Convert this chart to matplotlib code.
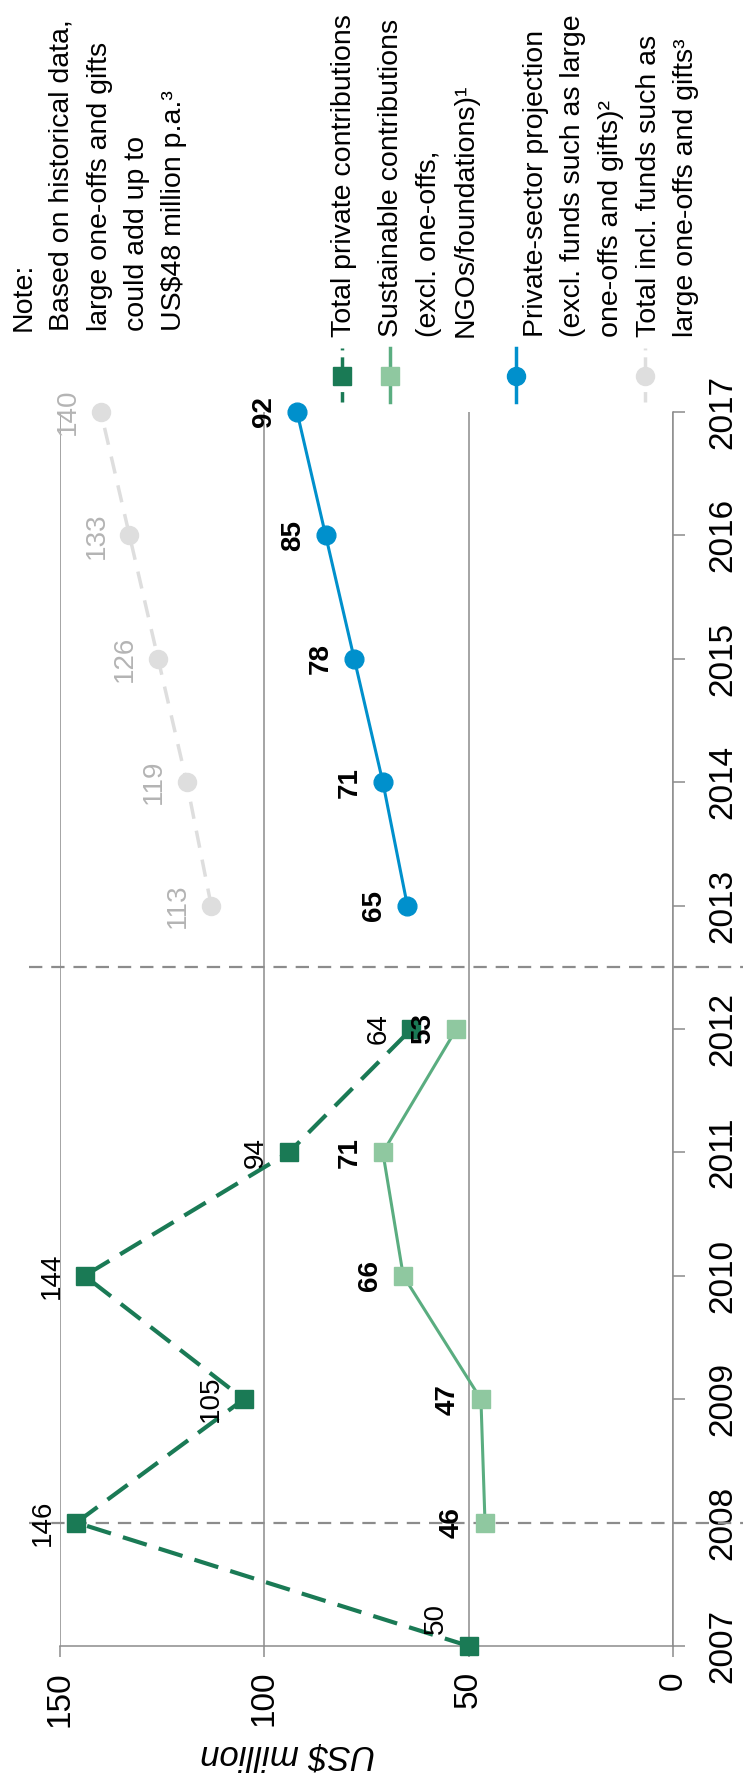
import matplotlib
matplotlib.use("Agg")
import matplotlib.pyplot as plt
from matplotlib.lines import Line2D

plt.rcParams['font.family'] = ['Liberation Sans', 'DejaVu Sans']

# data (chart is drawn turned by 90 degrees: years run upward, values run leftward)
years_hist = [2007, 2008, 2009, 2010, 2011, 2012]
total_private = [50, 146, 105, 144, 94, 64]
years_sust = [2008, 2009, 2010, 2011, 2012]
sustainable = [46, 47, 66, 71, 53]
years_proj = [2013, 2014, 2015, 2016, 2017]
projection = [65, 71, 78, 85, 92]
total_incl = [113, 119, 126, 133, 140]
year_ticks = list(range(2007, 2018))
value_ticks = [0, 50, 100, 150]
divider_years = [2008, 2012.5]

legend_labels = [
    ['Total private contributions'],
    ['Sustainable contributions', '(excl. one-offs,', 'NGOs/foundations)¹'],
    ['Private-sector projection', '(excl. funds such as large', 'one-offs and gifts)²'],
    ['Total incl. funds such as', 'large one-offs and gifts³'],
]
note_lines = ['Note:', 'Based on historical data,', 'large one-offs and gifts',
              'could add up to', r'US\$48 million p.a.³']

DARK = '#1a7a55'
MID = '#5aad80'
LIGHT = '#8fc8a0'
BLUE = '#0090cc'
LGRAY = '#dedede'
TGRAY = '#b4b4b4'
GRID = '#8c8c8c'

W, H = 743, 1775
def fx(p):
    return p / W
def fy(p):
    return 1 - p / H

fig = plt.figure(figsize=(W / 100, H / 100), dpi=100)
ax = fig.add_axes([fx(60), fy(1646), (673 - 60) / W, (1646 - 412) / H])
ax.set_xlim(150, 0)
ax.set_ylim(2007, 2017)

for yv in divider_years:
    ax.plot([-0.05, 1.12], [yv, yv], transform=ax.get_yaxis_transform(),
            color=GRID, lw=1.6, dashes=(6, 4), clip_on=False, zorder=1)

ax.plot(total_private, years_hist, color=DARK, lw=3, dashes=(6, 3), marker='s', ms=13,
        mfc=DARK, mec=DARK, clip_on=False, zorder=3)
ax.plot(sustainable, years_sust, color=MID, lw=2.2, marker='s', ms=13,
        mfc=LIGHT, mec=LIGHT, clip_on=False, zorder=3)
ax.plot(projection, years_proj, color=BLUE, lw=2.2, marker='o', ms=13.5,
        clip_on=False, zorder=3)
ax.plot(total_incl, years_proj, color=LGRAY, lw=2.5, dashes=(5, 3.5), marker='o', ms=13,
        clip_on=False, zorder=3)

def labels(xs, ys, **kw):
    for i, (v, y) in enumerate(zip(xs, ys)):
        dy = 28 if y == 2007 else 0
        ax.annotate(str(v), (v, y), xytext=(-33, dy), textcoords='offset pixels',
                    rotation=90, ha='center', va='center', fontsize=20, zorder=5, **kw)

labels(total_private, years_hist, color='black')
labels(sustainable, years_sust, color='black', fontweight='bold')
labels(projection, years_proj, color='black', fontweight='bold')
labels(total_incl, years_proj, color=TGRAY)

# axes styling
for s in ['left', 'top']:
    ax.spines[s].set_visible(False)
for s in ['bottom', 'right']:
    ax.spines[s].set_color(GRID)
    ax.spines[s].set_linewidth(1.1)
ax.grid(axis='x', color=GRID, lw=1.1)
ax.set_axisbelow(True)

ax.set_xticks(value_ticks)
ax.set_xticklabels([str(v) for v in value_ticks], rotation=90)
ax.tick_params(axis='x', length=8, width=1.1, color=GRID, labelsize=24, pad=10)

ax.yaxis.tick_right()
ax.set_yticks(year_ticks)
ax.set_yticklabels([str(y) for y in year_ticks], rotation=90, va='center')
ax.tick_params(axis='y', length=8.5, width=1.1, color=GRID, labelsize=24, pad=16)

fig.text(fx(288), fy(1755), r'US\$ million', rotation=180, style='italic',
         fontsize=25, ha='center', va='center')

# note
note_x = [24, 62, 100, 137, 174]
for x, t in zip(note_x, note_lines):
    fig.text(fx(x), fy(331), t, rotation=90, ha='center', va='bottom', fontsize=20.5)

# legend
line_x = [[344], [391, 429, 466], [536, 573, 611], [649, 686]]
handle_x = [342, 390, 516, 645]
handle_style = [
    dict(color=DARK, mcolor=DARK, marker='s', dashes=(3, 2)),
    dict(color=MID, mcolor=LIGHT, marker='s', dashes=None),
    dict(color=BLUE, mcolor=BLUE, marker='o', dashes=None),
    dict(color=LGRAY, mcolor=LGRAY, marker='o', dashes=(3, 2)),
]
for hx, st, xs, lines in zip(handle_x, handle_style, line_x, legend_labels):
    ln = Line2D([fx(hx)] * 2, [fy(402), fy(348)], color=st['color'], lw=2.5,
                transform=fig.transFigure)
    if st['dashes']:
        ln.set_dashes(st['dashes'])
    fig.add_artist(ln)
    fig.add_artist(Line2D([fx(hx)], [fy(376)], marker=st['marker'], ms=13, ls='none',
                          color=st['mcolor'], transform=fig.transFigure))
    for x, t in zip(xs, lines):
        fig.text(fx(x), fy(337), t, rotation=90, ha='center', va='bottom', fontsize=20.5)

fig.savefig('out.png', dpi=100)
